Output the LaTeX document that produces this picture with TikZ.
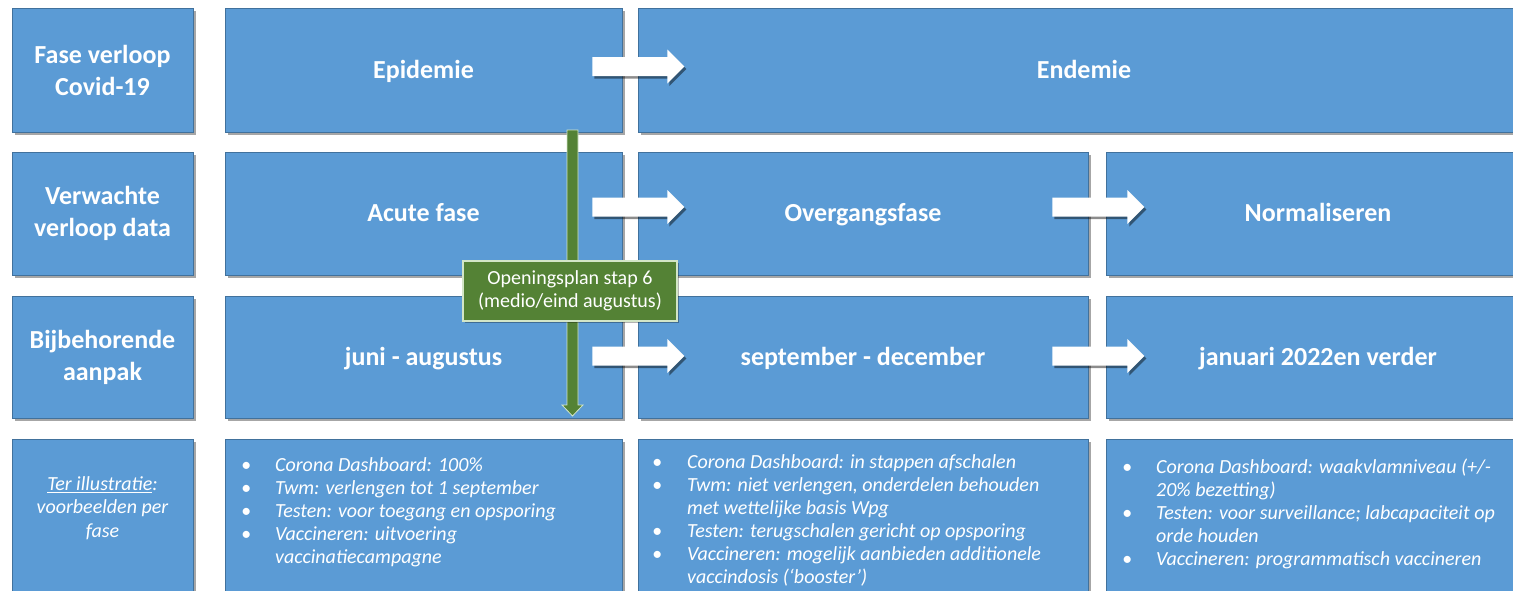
\documentclass[tikz,border=0pt]{standalone}
\usepackage{fontspec}
\setmainfont{Carlito}
\usetikzlibrary{shadows,calc}
\definecolor{boxblue}{HTML}{5B9BD5}
\definecolor{boxline}{HTML}{41719C}
\definecolor{ogreen}{HTML}{548235}
\definecolor{lgreen}{HTML}{D3E6C7}
\tikzset{
  panel/.style={rectangle, fill=boxblue, draw=boxline, line width=0.9pt, inner sep=0pt,
    text=white, align=center,
    drop shadow={shadow xshift=3pt, shadow yshift=-3pt, opacity=0.35, fill=black}},
  headtext/.style={font=\bfseries\fontsize{26}{32}\selectfont},
  headone/.style={headtext, text height=21pt, text depth=5pt},
  ittext/.style={text=white, inner sep=0pt, anchor=north west,
    font=\itshape\fontsize{20}{23}\selectfont},
  blockarrow/.pic={\fill[white, drop shadow={shadow xshift=2pt, shadow yshift=-2.5pt, opacity=0.45, fill=black}]
    (0,-9.5) -- (75,-9.5) -- (75,-17) -- (92,0) -- (75,17) -- (75,9.5) -- (0,9.5) -- cycle;}
}
\begin{document}
\begin{tikzpicture}[x=1pt,y=-1pt]
\clip (0,0) rectangle (1513,590);
\fill[white] (0,0) rectangle (1513,590);
% label column
\node[panel, headtext, minimum width=181pt, minimum height=124pt] (lab1) at (102.5,70) {Fase verloop\\Covid-19};
\node[panel, headtext, minimum width=181pt, minimum height=123pt] (lab2) at (102.5,213.5) {Verwachte\\verloop data};
\node[panel, headtext, minimum width=181pt, minimum height=122pt] (lab3) at (102.5,357) {Bijbehorende\\aanpak};
\node[panel, minimum width=181pt, minimum height=161pt] (lab4) at (102.5,519.5) {};
\node[text=white, align=center, inner sep=0pt, font=\itshape\fontsize{20}{23.5}\selectfont] (lab4t) at (102.5,508) {\underline{Ter illustratie}:\\voorbeelden per\\fase};
% row 1
\node[panel, headone, minimum width=397pt, minimum height=124pt] (epi) at (423.5,70) {Epidemie};
\node[panel, headone, minimum width=892pt, minimum height=124pt] (endo) at (1084,70) {Endemie};
% row 2
\node[panel, headone, minimum width=397pt, minimum height=123pt] (acute) at (423.5,213.5) {Acute fase};
\node[panel, headone, minimum width=450pt, minimum height=123pt] (overg) at (863,213.5) {Overgangsfase};
\node[panel, headone, minimum width=424pt, minimum height=123pt] (norm) at (1318,213.5) {Normaliseren};
% row 3
\node[panel, headone, minimum width=397pt, minimum height=122pt] (juni) at (423.5,357) {juni - augustus};
\node[panel, headone, minimum width=450pt, minimum height=122pt] (sept) at (863,357) {september - december};
\node[panel, headone, minimum width=424pt, minimum height=122pt] (jan) at (1318,357) {januari 2022en verder};
% row 4
\node[panel, minimum width=397pt, minimum height=161pt] (ex1) at (423.5,519.5) {};
\node[panel, minimum width=450pt, minimum height=161pt] (ex2) at (863,519.5) {};
\node[panel, minimum width=424pt, minimum height=161pt] (ex3) at (1318,519.5) {};
\node[ittext] (ex1t) at (241,455) {\begin{tabular}{@{}p{34pt}@{}l@{}}
\textbullet & Corona Dashboard: 100\% \\
\textbullet & Twm: verlengen tot 1 september \\
\textbullet & Testen: voor toegang en opsporing \\
\textbullet & Vaccineren: uitvoering \\
 & vaccinatiecampagne
\end{tabular}};
\node[ittext] (ex2t) at (652,452) {\begin{tabular}{@{}p{35pt}@{}l@{}}
\textbullet & Corona Dashboard: in stappen afschalen \\
\textbullet & Twm: niet verlengen, onderdelen behouden \\
 & met wettelijke basis Wpg \\
\textbullet & Testen: terugschalen gericht op opsporing \\
\textbullet & Vaccineren: mogelijk aanbieden additionele \\
 & vaccindosis (‘booster’)
\end{tabular}};
\node[ittext] (ex3t) at (1122,457) {\begin{tabular}{@{}p{34pt}@{}l@{}}
\textbullet & Corona Dashboard: waakvlamniveau (+/- \\
 & 20\% bezetting) \\
\textbullet & Testen: voor surveillance; labcapaciteit op \\
 & orde houden \\
\textbullet & Vaccineren: programmatisch vaccineren
\end{tabular}};
% white block arrows
\pic at ($(epi.east)+(-30,-3.5)$) {blockarrow};
\pic at ($(acute.east)+(-30,-6.5)$) {blockarrow};
\pic at ($(overg.east)+(-36,-6.5)$) {blockarrow};
\pic at ($(juni.east)+(-30,-1)$) {blockarrow};
\pic at ($(sept.east)+(-36,-1)$) {blockarrow};
% green milestone arrow
\coordinate (gtop) at (572.5,130);
\coordinate (gtip) at (572.5,416);
\filldraw[fill=ogreen, draw=lgreen, line width=0.8pt]
  ($(gtop)+(-5.5,0)$) -- ($(gtop)+(5.5,0)$) -- ($(gtip)+(5.5,-11)$) -- ($(gtip)+(10.5,-11)$)
  -- (gtip) -- ($(gtip)+(-10.5,-11)$) -- ($(gtip)+(-5.5,-11)$) -- cycle;
\node[rectangle, fill=ogreen, draw=lgreen, line width=1.2pt, minimum width=214pt, minimum height=60pt,
  inner sep=0pt, text=white, align=center, font=\fontsize{20}{23.5}\selectfont,
  drop shadow={shadow xshift=2pt, shadow yshift=-2pt, opacity=0.3, fill=black}] (gl) at (570,291)
  {Openingsplan stap 6\\(medio/eind augustus)};
\end{tikzpicture}
\end{document}
